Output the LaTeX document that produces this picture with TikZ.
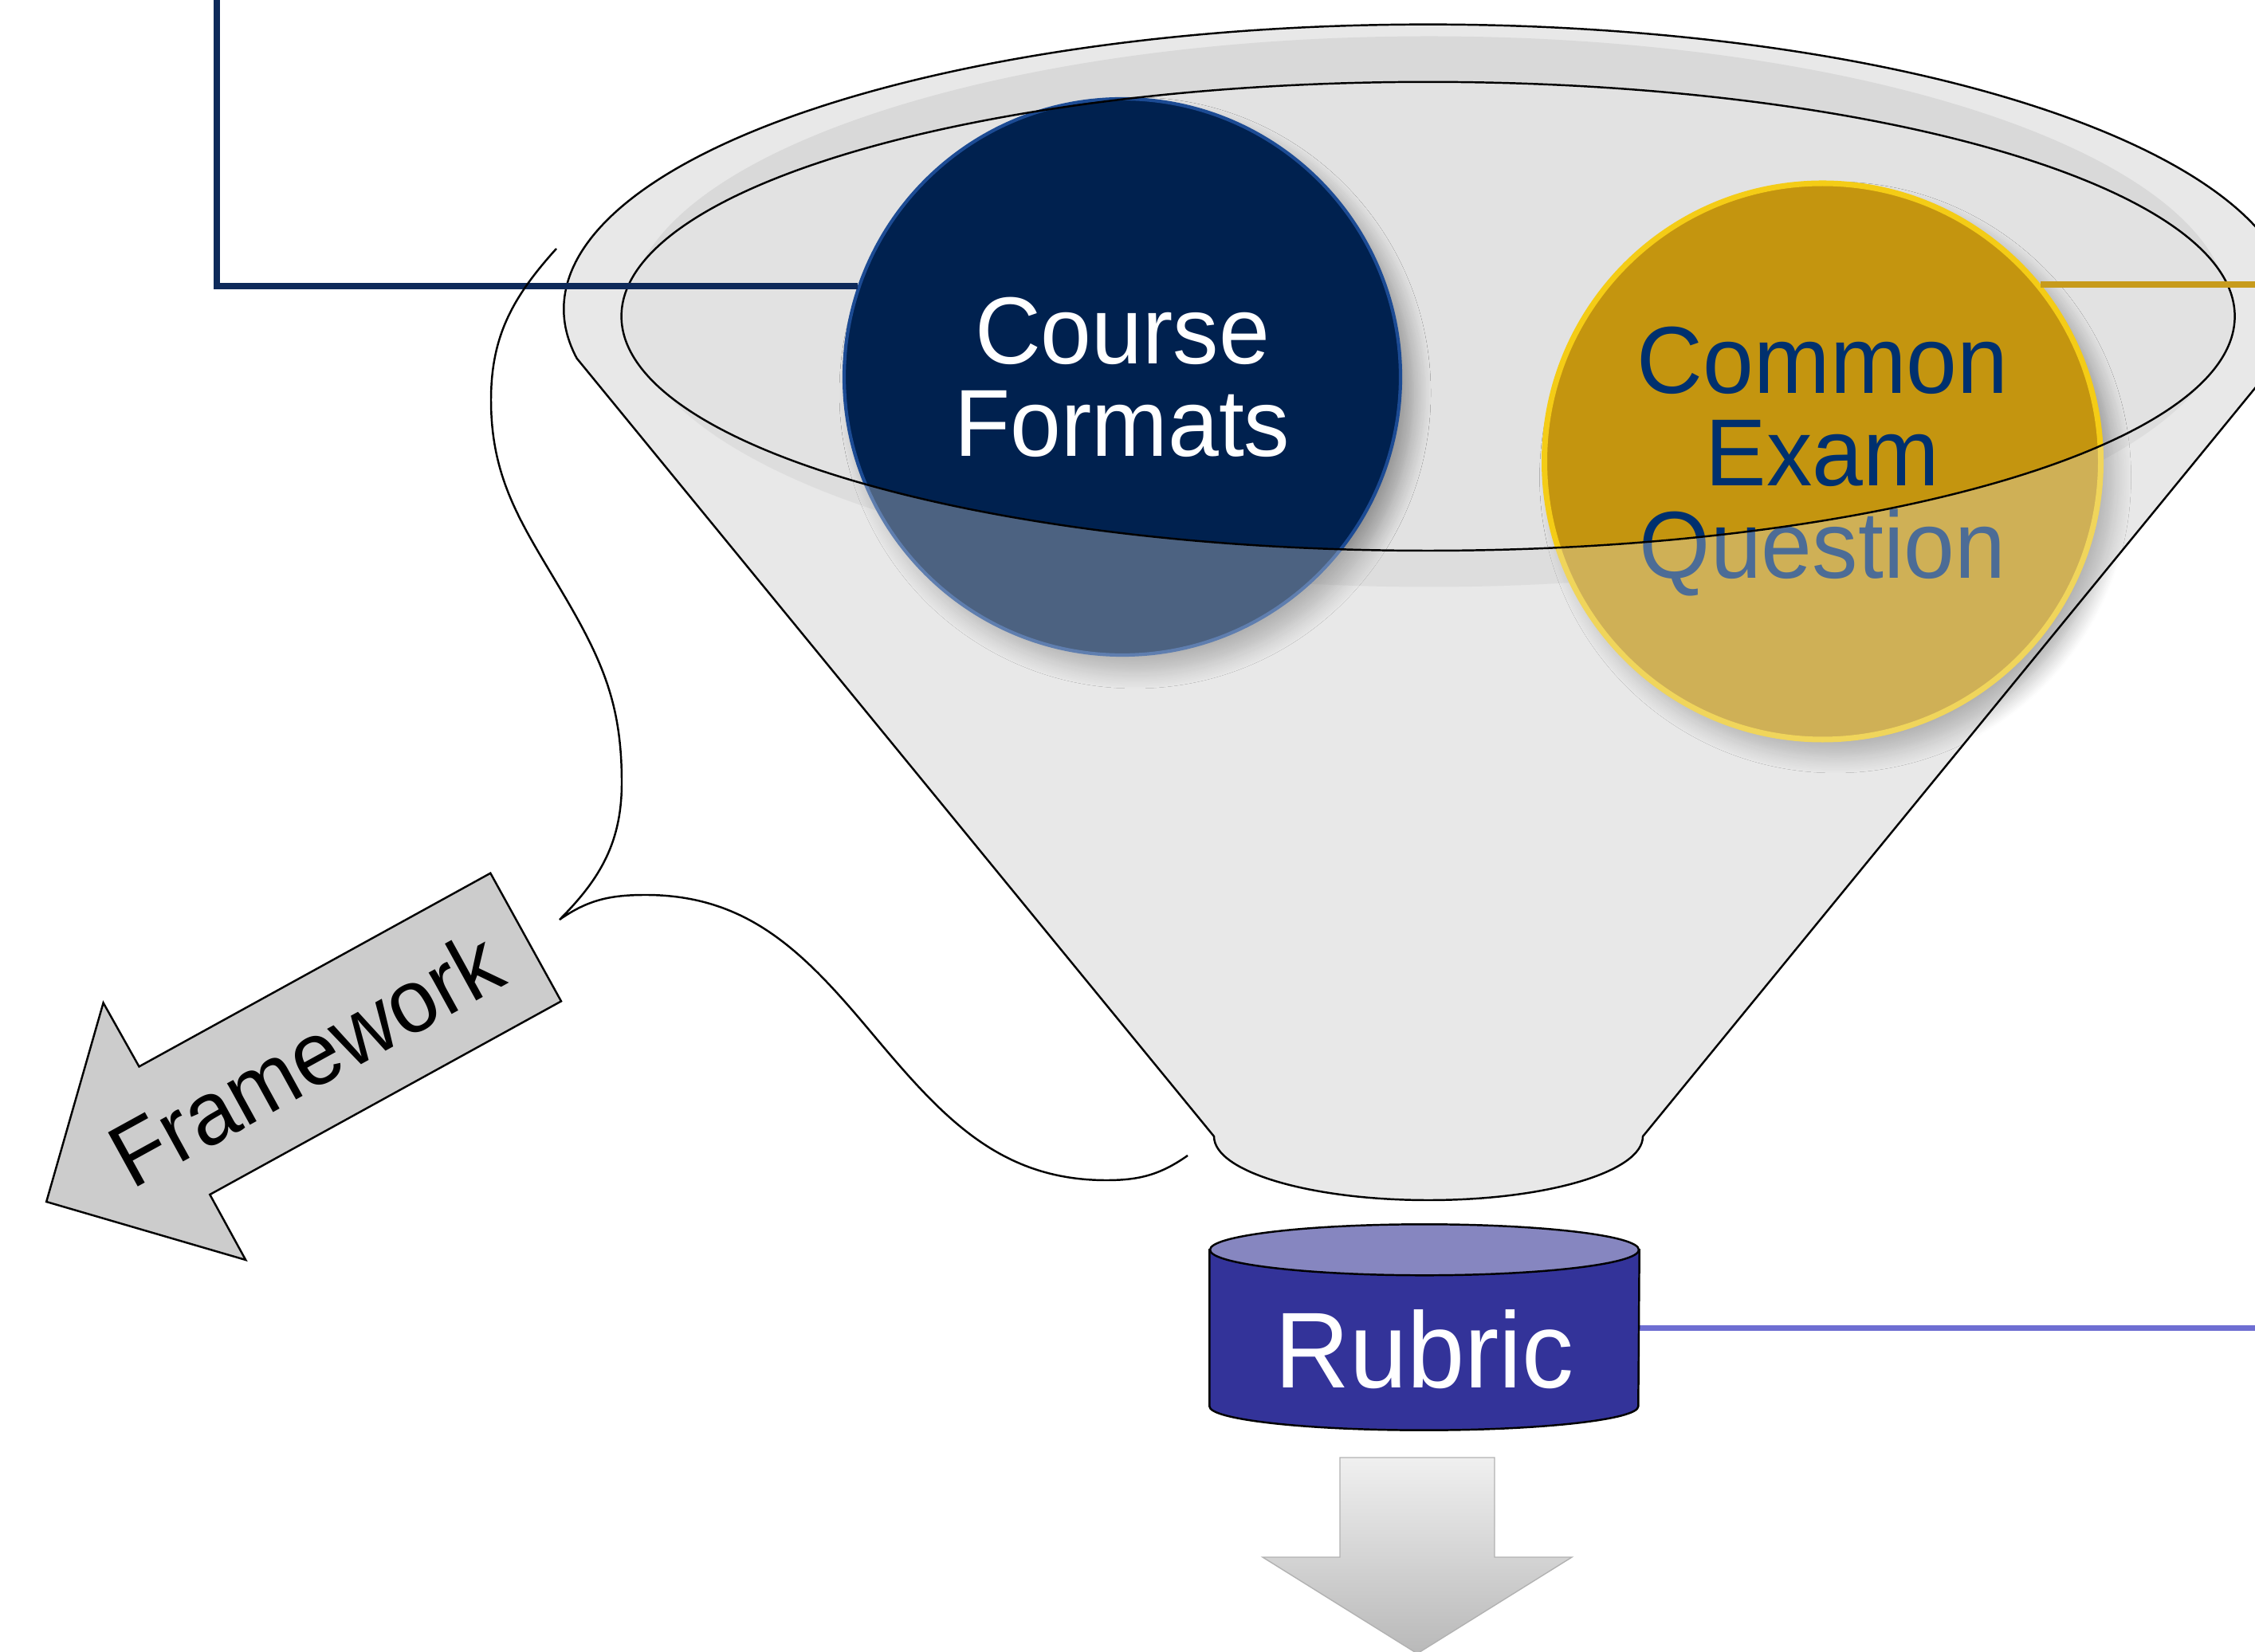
\documentclass[tikz,border=0pt]{standalone}
\usepackage{fontspec}
\setmainfont{Liberation Sans}[FakeStretch=0.96]
\usetikzlibrary{shadows.blur}

\definecolor{funnelgray}{HTML}{E8E8E8}
\definecolor{rimshade}{HTML}{D9D9D9}
\definecolor{innergray}{HTML}{E2E2E2}
\definecolor{navy}{HTML}{00214F}
\definecolor{navyrim}{HTML}{1C4B94}
\definecolor{gold}{HTML}{C4950F}
\definecolor{goldrim}{HTML}{F4CC16}
\definecolor{examblue}{HTML}{00306E}
\definecolor{navyline}{HTML}{0E2A5A}
\definecolor{goldline}{HTML}{C79B1C}
\definecolor{rubricline}{HTML}{6E6ED2}
\definecolor{rubricbody}{HTML}{333399}
\definecolor{rubrictop}{HTML}{8686C0}
\definecolor{framegray}{HTML}{CCCCCC}

\newcommand{\funneloutline}{(FL) -- (BL) arc[start angle=180, end angle=360, x radius=2.69, y radius=0.8] -- (FR) arc[start angle=-10, end angle=190, x radius=10.843, y radius=3.572] -- cycle}

\tikzset{
  bubble/.style={circle, inner sep=0pt, minimum size=6.98cm, align=center,
    font=\fontsize{34}{33}\selectfont,
    blur shadow={shadow xshift=0.16cm, shadow yshift=-0.2cm, shadow blur radius=0.22cm, shadow blur steps=12, shadow opacity=35}},
  thinline/.style={draw=black, line width=0.7pt},
  link/.style={line width=2.2pt}
}

\begin{document}
\begin{tikzpicture}
\useasboundingbox (0,0) rectangle (28.29,20.72);
\clip (0,0) rectangle (28.29,20.72);

\coordinate (FL) at (7.238,16.221);
\coordinate (FR) at (28.594,16.221);
\coordinate (BL) at (15.23,6.46);
\coordinate (BR) at (20.61,6.46);
\coordinate (RimC) at (17.916,16.751);

% funnel, back part
\fill[funnelgray] \funneloutline;
\fill[rimshade] (17.93,16.81) ellipse [x radius=10.03, y radius=3.455];
\fill[innergray] (RimC) ellipse [x radius=10.12, y radius=2.941];

\node[bubble, fill=navy, draw=navyrim, line width=1.2pt, text=white] (formats) at (14.08,15.99) {Course\\Formats};
\node[bubble, fill=gold, draw=goldrim, line width=2pt, text=examblue] (exam) at (22.865,14.93) {Common\\Exam\\Question};

% funnel, front wall
\fill[funnelgray, opacity=0.33] (7.796,16.751) arc[start angle=180, end angle=360, x radius=10.12, y radius=2.941]
  -- (FR) -- (BR) arc[start angle=0, end angle=-180, x radius=2.69, y radius=0.8] -- (BL) -- (FL) -- cycle;
\draw[thinline] \funneloutline;
\draw[thinline] (RimC) ellipse [x radius=10.12, y radius=2.941];

\coordinate (navyout) at (2.72,21);
\coordinate (goldout) at (29,0);
\coordinate (rubricout) at (29,0);

\draw[link, navyline] (formats.161) -| (navyout);
\draw[link, goldline] (exam.39) -- (exam.39 -| goldout);

% brace towards the framework arrow
\draw[thinline] (6.98,17.60) to[out=228,in=90] (6.16,15.7) to[out=270,in=120] (7.14,13.14)
  to[out=300,in=90] (7.80,10.9) to[out=270,in=45] (7.02,9.18)
  to[out=35,in=180] (8.1,9.49) to[out=0,in=130] (10.9,7.8)
  to[out=310,in=180] (13.88,5.91) to[out=0,in=215] (14.90,6.22);

\coordinate (FA) at (6.153,9.763);
\coordinate (FB) at (7.04,8.156);
\coordinate (FC) at (2.633,5.73);
\coordinate (FD) at (3.082,4.91);
\coordinate (FE) at (0.582,5.64);
\coordinate (FF) at (1.296,8.136);
\coordinate (FG) at (1.745,7.336);

\draw[thinline, fill=framegray] (FA) -- (FB) -- (FC) -- (FD) -- (FE) -- (FF) -- (FG) -- cycle;
\node[rotate=28.8, font=\fontsize{32}{32}\selectfont] (framework) at (3.83,7.44) {Framework};

% rubric cylinder
\node[minimum width=5.38cm, minimum height=1.95cm, inner sep=0pt] (rubric) at (17.87,4.055) {};
\draw[link, rubricline] (rubric.east) -- (rubric.east -| rubricout);
\draw[thinline, fill=rubricbody] (rubric.north west) -- (rubric.south west)
  arc[start angle=180, end angle=360, x radius=2.69, y radius=0.3] -- (rubric.north east) -- cycle;
\draw[thinline, fill=rubrictop] (rubric.north) ellipse [x radius=2.69, y radius=0.32];
\node[anchor=base, text=white, font=\fontsize{38.5}{38.5}\selectfont] (rubrictext) at ([yshift=-0.745cm]rubric.center) {Rubric};

% outlet arrow
\draw[draw=gray!60, top color=gray!12, bottom color=gray!55]
  (16.81,2.43) -- (18.75,2.43) -- (18.75,1.18) -- (19.72,1.18) -- (17.78,-0.03)
  -- (15.84,1.18) -- (16.81,1.18) -- cycle;

\end{tikzpicture}
\end{document}
